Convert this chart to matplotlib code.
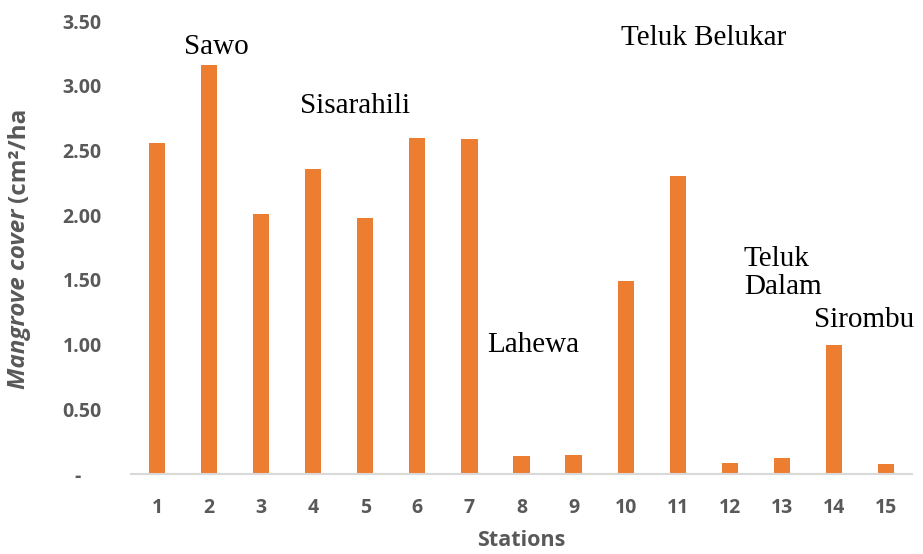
import matplotlib.pyplot as plt

# station numbers and mangrove cover values
stations = list(range(1, 16))
cover = [2.56, 3.16, 2.01, 2.36, 1.98, 2.60, 2.59, 0.14, 0.145, 1.49, 2.30, 0.085, 0.125, 1.00, 0.075]

# location labels (text, x, y in data units)
places = ['Sawo', 'Sisarahili', 'Teluk Belukar', 'Lahewa', 'Sirombu']
place_x = [2.13, 4.81, 11.5, 8.22, 14.58]
place_y = [3.30, 2.84, 3.37, 1.00, 1.19]

yticks = [0, 0.5, 1.0, 1.5, 2.0, 2.5, 3.0, 3.5]
ytick_labels = ['-    ', '0.50', '1.00', '1.50', '2.00', '2.50', '3.00', '3.50']

orange = '#ED7D31'
grey = '#595959'

fig = plt.figure(figsize=(9.23, 5.54), dpi=100)
ax = fig.add_axes([0.142, 0.1444, 0.846, 0.8176])

ax.bar(stations, cover, width=0.31, color=orange)

ax.set_xlim(0.5, 15.5)
ax.set_ylim(0, 3.5)
ax.set_xticks(stations)
ax.set_xticklabels([str(s) for s in stations])
ax.set_yticks(yticks)
ax.set_yticklabels(ytick_labels)

for s in ['top', 'right', 'left']:
    ax.spines[s].set_visible(False)
ax.spines['bottom'].set_color('#D9D9D9')
ax.spines['bottom'].set_linewidth(1.5)
ax.tick_params(length=0, colors=grey)
ax.tick_params(axis='x', pad=17)
ax.tick_params(axis='y', pad=21)
for lab in ax.get_xticklabels() + ax.get_yticklabels():
    lab.set_fontfamily('Open Sans')
    lab.set_fontweight('bold')
    lab.set_fontsize(14)

ax.set_xlabel('Stations', fontfamily='Open Sans', fontweight='bold',
              fontsize=15.5, color=grey, labelpad=9)

# y label has an italic part and an upright part
fig.text(0.021, 0.635, 'Mangrove cover ', rotation=90, ha='center', va='top',
         fontfamily='Open Sans', fontweight='bold', fontstyle='italic',
         fontsize=17.5, color=grey)
fig.text(0.021, 0.635, '(cm²/ha', rotation=90, ha='center', va='bottom',
         fontfamily='Open Sans', fontweight='bold', fontsize=17.5, color=grey)

for name, x, y in zip(places, place_x, place_y):
    ax.text(x, y, name, ha='center', va='center', fontfamily='Liberation Serif',
            fontsize=21, color='black', clip_on=False)
ax.text(12.27, 1.553, 'Teluk\nDalam', ha='left', va='center', fontfamily='Liberation Serif',
        fontsize=21, color='black', linespacing=1.1, clip_on=False)

fig.savefig('out.png', dpi=100)
